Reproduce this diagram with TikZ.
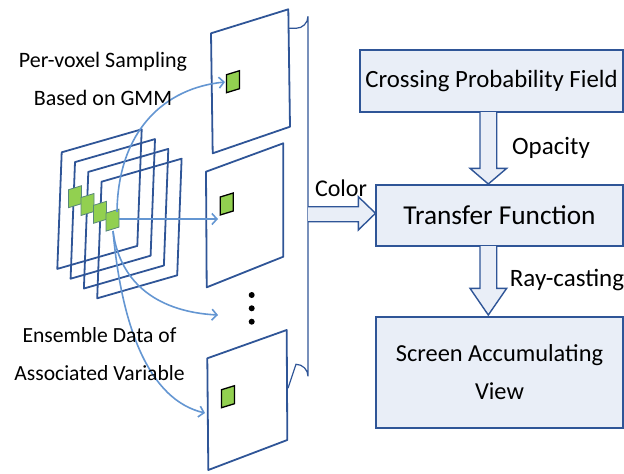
\documentclass[tikz,border=0pt]{standalone}
\usepackage{fontspec}
\setmainfont{Carlito}
\usetikzlibrary{arrows.meta}
\definecolor{frameblue}{RGB}{47,85,151}
\definecolor{arrowblue}{RGB}{100,150,210}
\definecolor{boxfill}{RGB}{233,238,247}
\definecolor{cellgreen}{RGB}{146,208,80}
\tikzset{
  frame/.style={draw=frameblue, line width=1.8pt, line join=round},
  bracket/.style={draw=frameblue, line width=1.2pt},
  flow/.style={draw=arrowblue, line width=1.6pt, -{Straight Barb[length=5pt,width=11pt]}},
  blockarrow/.style={draw=frameblue, fill=boxfill, line width=1.4pt, line join=miter},
  procbox/.style={draw=frameblue, fill=boxfill, line width=1.6pt, rectangle, inner sep=0pt, align=center},
  lbl/.style={inner sep=0pt, align=center},
  stackcell/.style={draw=frameblue!60!cellgreen, fill=cellgreen, line width=0.8pt},
  slicecell/.style={draw=black, fill=cellgreen, line width=1.3pt},
}
\begin{document}
\begin{tikzpicture}[x=1pt,y=-1pt]
\useasboundingbox (0,0) rectangle (624,474);
% ensemble stack of frames
\foreach \i in {0,1,2,3}{
  \begin{scope}[shift={(61.7+13.3*\i,152.3+9.8*\i)}]
    \draw[frame] (0,0) -- (80,-23) -- (75.6,93.6) -- (-4.4,116.6) -- cycle;
  \end{scope}
}
% cells in stack
\foreach \i in {0,1,2,3}{
  \begin{scope}[shift={(75+12.5*\i,196.7+7.8*\i)}]
    \draw[stackcell] (-6.5,-7) -- (6.5,-11) -- (6.5,7) -- (-6.5,11) -- cycle;
  \end{scope}
}
\coordinate (srcR) at (119,219);
\coordinate (srcT) at (117,212);
\coordinate (srcB) at (113,231);
% slices
\draw[frame] (211,33.3) -- (288.3,9.3) -- (290,126.7) -- (212.7,153.3) -- cycle;
\draw[frame] (206,171.7) -- (283.3,143.3) -- (283.3,256.7) -- (206.7,287.3) -- cycle;
\draw[frame] (207.3,358.3) -- (286.7,330) -- (287.3,440) -- (208.3,470) -- cycle;
\foreach \px/\py in {233/81.7,226.7/204,228/396.7}{
  \begin{scope}[shift={(\px,\py)}]
    \draw[slicecell] (-6.5,-7) -- (6.5,-11) -- (6.5,7) -- (-6.5,11) -- cycle;
  \end{scope}
}
\coordinate (tTop) at (225,82);
\coordinate (tMid) at (218,219);
\coordinate (tDots) at (218,315);
\coordinate (tBot) at (205,413);
% flows
\draw[flow] (srcR) -- (tMid);
\draw[flow] (srcT) .. controls (118,130) and (165,88) .. (tTop);
\draw[flow] (srcB) .. controls (120,285) and (160,312) .. (tDots);
\draw[flow] (srcB) .. controls (122,330) and (150,400) .. (tBot);
% dots
\foreach \yy in {295,308.3,321.7}{ \fill (251.7,\yy) circle (3); }
% bracket
\draw[bracket] (288,28.3) -- (296,28.3) arc[start angle=90,end angle=0,radius=12] -- (308,376.3) arc[start angle=0,end angle=-90,radius=12] -- (288,388.3);
% boxes
\node[procbox, minimum width=263, minimum height=62, font=\fontsize{24.8}{28}\selectfont] (cpf) at (491.5,81) {Crossing Probability Field};
\node[procbox, minimum width=247, minimum height=61, font=\fontsize{27.3}{31}\selectfont] (tf) at (499.5,215.5) {Transfer Function};
\node[procbox, minimum width=247, minimum height=111, font=\fontsize{24.4}{38}\selectfont] (sav) at (499.5,372.5) {Screen Accumulating\\View};
% block arrows
\draw[blockarrow] (480,112) -- (480,168.3) -- (470,168.3) -- (488.3,184) -- (506.7,168.3) -- (496.7,168.3) -- (496.7,112);
\draw[blockarrow] (480,246) -- (480,288.3) -- (470,288.3) -- (488.3,315) -- (506.7,288.3) -- (496.7,288.3) -- (496.7,246);
\draw[blockarrow] (308,206.7) -- (358.3,206.7) -- (358.3,196.7) -- (375.5,213.3) -- (358.3,230) -- (358.3,221.7) -- (308,221.7);
% labels
\node[lbl, font=\fontsize{25}{29}\selectfont] (op) at (551,148.3) {Opacity};
\node[lbl, font=\fontsize{25}{29}\selectfont] (rc) at (567,280) {Ray-casting};
\node[lbl, font=\fontsize{24}{28}\selectfont] (col) at (341,188) {Color};
\node[lbl, font=\fontsize{22}{37.5}\selectfont] (pv) at (103,79) {Per-voxel Sampling\\Based on GMM};
\node[lbl, font=\fontsize{21.6}{38}\selectfont] (ens) at (99.5,354) {Ensemble Data of\\Associated Variable};
\end{tikzpicture}
\end{document}
